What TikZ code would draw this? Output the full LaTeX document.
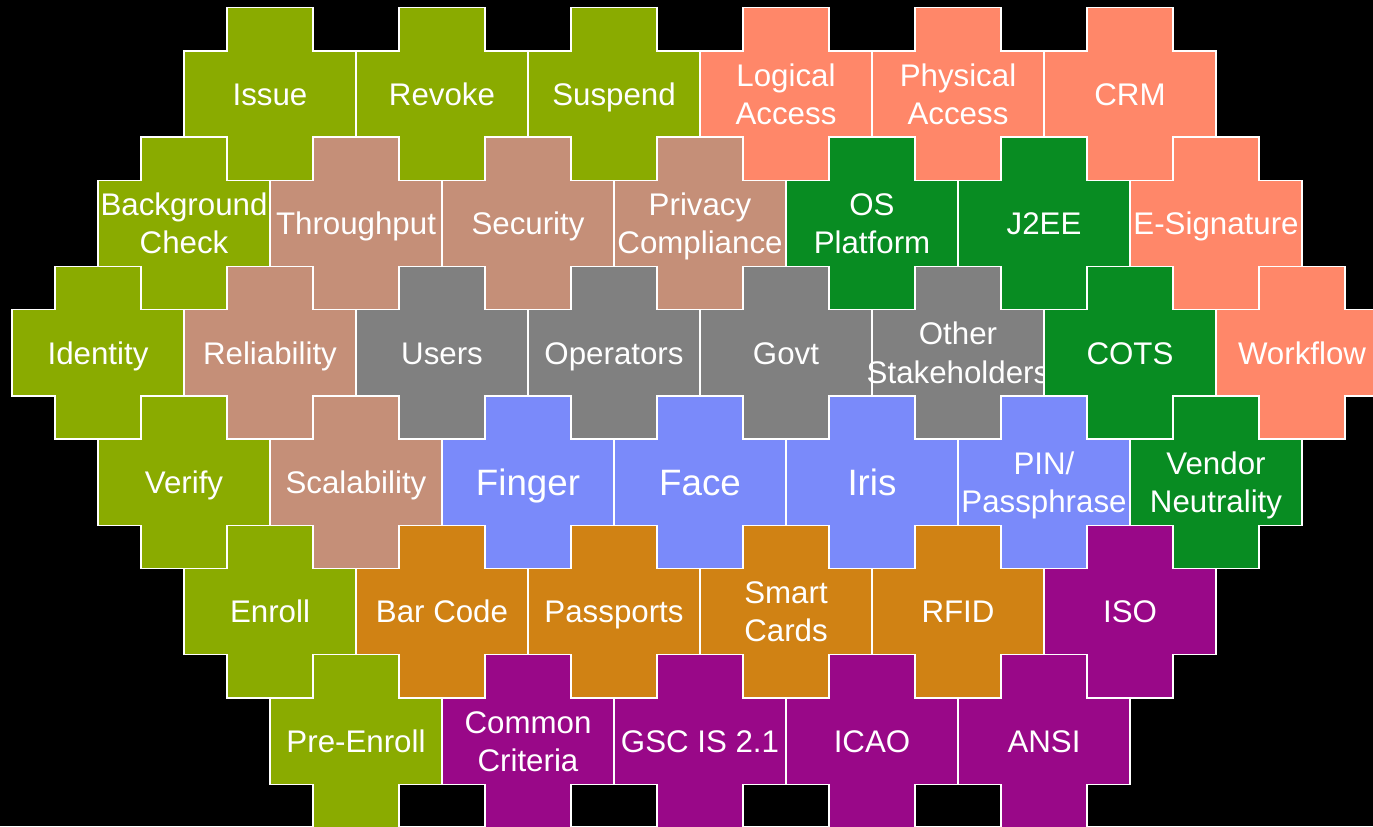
\documentclass[tikz,border=0pt]{standalone}
\usepackage{fontspec}
\setmainfont{Liberation Sans}

\definecolor{tileolive}{RGB}{138,171,0}
\definecolor{tilesalmon}{RGB}{255,135,105}
\definecolor{tiletan}{RGB}{197,143,120}
\definecolor{tilegreen}{RGB}{8,140,34}
\definecolor{tilegray}{RGB}{128,128,128}
\definecolor{tileblue}{RGB}{122,138,250}
\definecolor{tileorange}{RGB}{208,130,20}
\definecolor{tilepurple}{RGB}{153,8,136}

% plus shaped tile: [text style] name, x, y, colour, text
\newcommand{\plustile}[6][]{%
  \filldraw[fill=#5, draw=white, line width=0.75pt]
    (#3,#4) +(-43,-86.3) -- +(43,-86.3) -- +(43,-43.15) -- +(86,-43.15)
    -- +(86,43.15) -- +(43,43.15) -- +(43,86.3) -- +(-43,86.3)
    -- +(-43,43.15) -- +(-86,43.15) -- +(-86,-43.15) -- +(-43,-43.15) -- cycle;
  \node[piecetext,#1] (#2) at (#3,#4) {#6};}

\begin{document}
\begin{tikzpicture}[x=0.02cm,y=-0.02cm]
  \tikzstyle{piecetext}=[text=white,inner sep=0pt,font=\fontsize{17.8}{21.7}\selectfont,
    text height=12.8pt,text depth=0pt]
  \tikzstyle{twoline}=[align=center,text height=34.5pt,text depth=0pt]
  \tikzstyle{bigtext}=[font=\fontsize{20.9}{25}\selectfont,text height=15pt]
  \useasboundingbox (0,0) rectangle (1373,826);
  \fill[black] (0,0) rectangle (1373,826);
  \clip (0,0) rectangle (1373,826);
  % row 1
  \plustile{issue}{270}{94}{tileolive}{Issue}
  \plustile{revoke}{442}{94}{tileolive}{Revoke}
  \plustile{suspend}{614}{94}{tileolive}{Suspend}
  \plustile[twoline]{logical}{786}{94}{tilesalmon}{Logical\\Access}
  \plustile[twoline]{physical}{958}{94}{tilesalmon}{Physical\\Access}
  \plustile{crm}{1130}{94}{tilesalmon}{CRM}
  % row 2
  \plustile[twoline]{background}{184}{223.4}{tileolive}{Background\\Check}
  \plustile{throughput}{356}{223.4}{tiletan}{Throughput}
  \plustile{security}{528}{223.4}{tiletan}{Security}
  \plustile[twoline]{privacy}{700}{223.4}{tiletan}{Privacy\\Compliance}
  \plustile[twoline]{osplatform}{872}{223.4}{tilegreen}{OS\\Platform}
  \plustile{jee}{1044}{223.4}{tilegreen}{J2EE}
  \plustile{esignature}{1216}{223.4}{tilesalmon}{E-Signature}
  % row 3
  \plustile{identity}{98}{352.8}{tileolive}{Identity}
  \plustile{reliability}{270}{352.8}{tiletan}{Reliability}
  \plustile{users}{442}{352.8}{tilegray}{Users}
  \plustile{operators}{614}{352.8}{tilegray}{Operators}
  \plustile{govt}{786}{352.8}{tilegray}{Govt}
  \plustile[twoline]{others}{958}{352.8}{tilegray}{Other\\Stakeholders}
  \plustile{cots}{1130}{352.8}{tilegreen}{COTS}
  \plustile{workflow}{1302}{352.8}{tilesalmon}{Workflow}
  % row 4
  \plustile{verify}{184}{482.2}{tileolive}{Verify}
  \plustile{scalability}{356}{482.2}{tiletan}{Scalability}
  \plustile[bigtext]{finger}{528}{482.2}{tileblue}{Finger}
  \plustile[bigtext]{face}{700}{482.2}{tileblue}{Face}
  \plustile[bigtext]{iris}{872}{482.2}{tileblue}{Iris}
  \plustile[twoline]{pin}{1044}{482.2}{tileblue}{PIN/\\Passphrase}
  \plustile[twoline]{vendor}{1216}{482.2}{tilegreen}{Vendor\\Neutrality}
  % row 5
  \plustile{enroll}{270}{611.6}{tileolive}{Enroll}
  \plustile{barcode}{442}{611.6}{tileorange}{Bar Code}
  \plustile{passports}{614}{611.6}{tileorange}{Passports}
  \plustile[twoline]{smartcards}{786}{611.6}{tileorange}{Smart\\Cards}
  \plustile{rfid}{958}{611.6}{tileorange}{RFID}
  \plustile{iso}{1130}{611.6}{tilepurple}{ISO}
  % row 6
  \plustile{preenroll}{356}{741}{tileolive}{Pre-Enroll}
  \plustile[twoline]{common}{528}{741}{tilepurple}{Common\\Criteria}
  \plustile{gsc}{700}{741}{tilepurple}{GSC IS 2.1}
  \plustile{icao}{872}{741}{tilepurple}{ICAO}
  \plustile{ansi}{1044}{741}{tilepurple}{ANSI}
\end{tikzpicture}
\end{document}
